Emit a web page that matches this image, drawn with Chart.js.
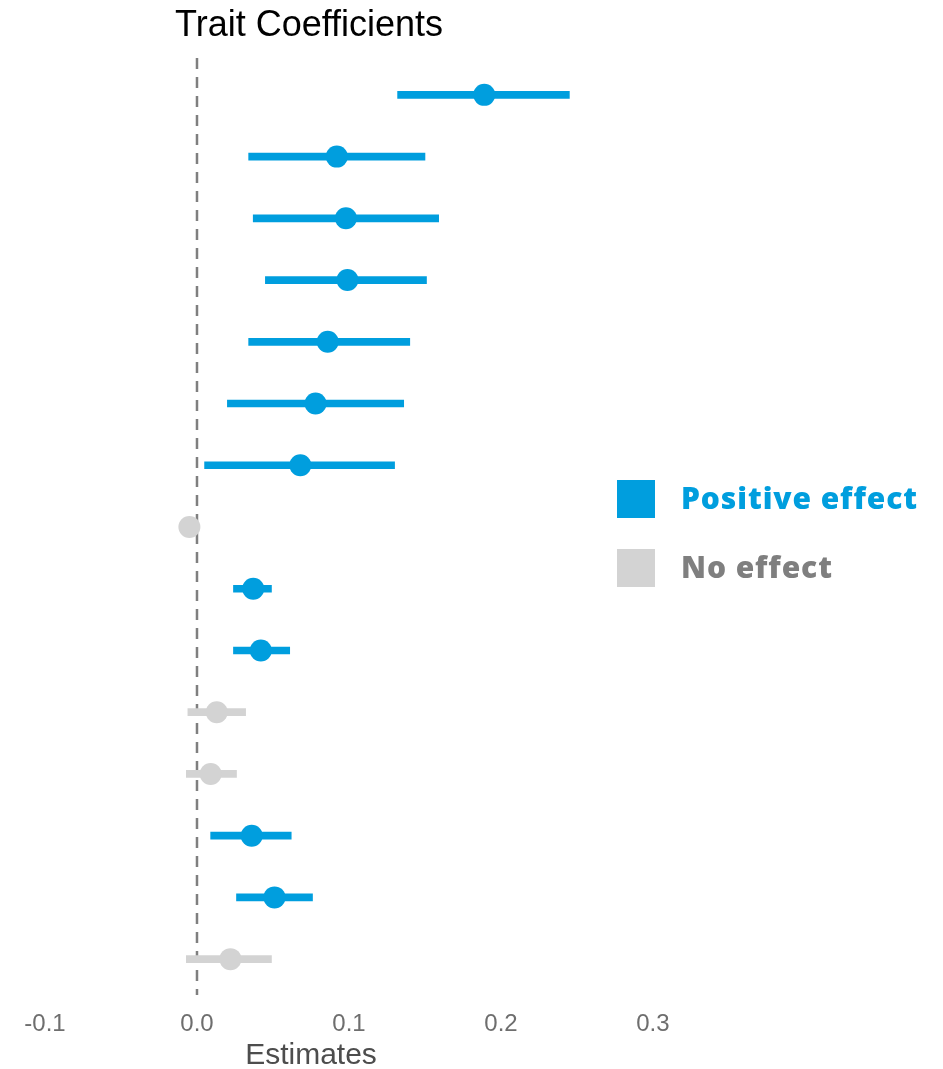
<!DOCTYPE html>
<html>
<head>
<meta charset="utf-8">
<script src="https://cdn.jsdelivr.net/npm/chart.js@4.4.0/dist/chart.umd.min.js"></script>
<style>
  html, body { margin: 0; padding: 0; background: #fff; }
  #wrap { position: relative; width: 943px; height: 1069px; }
  #legend { position: absolute; left: 617px; top: 480px; font-family: "Open Sans", "Noto Sans", sans-serif; font-weight: 800; font-size: 30px; letter-spacing: 0.9px; }
  .item { position: relative; height: 38px; margin-bottom: 31px; }
  .sw { position: absolute; left: 0; top: 0; width: 38px; height: 38px; }
  .lab { position: absolute; left: 64px; top: -3px; white-space: nowrap; line-height: 42px; }
</style>
</head>
<body>
<div id="wrap">
  <canvas id="c" width="943" height="1069"></canvas>
  <div id="legend">
    <div class="item"><div class="sw" style="background:#009EDE"></div><div class="lab" style="color:#009EDE">Positive effect</div></div>
    <div class="item"><div class="sw" style="background:#D3D3D3"></div><div class="lab" style="color:#7F7F7F">No effect</div></div>
  </div>
</div>
<script>
const traits = ["T1","T2","T3","T4","T5","T6","T7","T8","T9","T10","T11","T12","T13","T14","T15"];
const estimates = [0.189, 0.092, 0.098, 0.099, 0.086, 0.078, 0.068, -0.005, 0.037, 0.042, 0.013, 0.009, 0.036, 0.051, 0.022];
const lower =     [0.132, 0.034, 0.037, 0.045, 0.034, 0.020, 0.005, -0.010, 0.024, 0.024, -0.006, -0.007, 0.009, 0.026, -0.007];
const upper =     [0.245, 0.150, 0.159, 0.151, 0.140, 0.136, 0.130, 0.000, 0.049, 0.061, 0.032, 0.026, 0.062, 0.076, 0.049];
const effect =    ["pos","pos","pos","pos","pos","pos","pos","none","pos","pos","none","none","pos","pos","none"];
const xTicks = [-0.1, 0.0, 0.1, 0.2, 0.3];

const BLUE = "#009EDE", GREY = "#D3D3D3";
const colors = effect.map(e => e === "pos" ? BLUE : GREY);

const refLine = {
  id: "refLine",
  beforeDatasetsDraw(chart) {
    const ctx = chart.ctx, x = chart.scales.x.getPixelForValue(0), a = chart.chartArea;
    ctx.save();
    ctx.strokeStyle = "#7F7F7F";
    ctx.lineWidth = 2.5;
    ctx.setLineDash([11, 8]);
    ctx.beginPath();
    ctx.moveTo(x, a.top - 6);
    ctx.lineTo(x, a.bottom + 5);
    ctx.stroke();
    ctx.restore();
  },
  afterDraw(chart) {
    const ctx = chart.ctx;
    ctx.save();
    ctx.fillStyle = "#000";
    ctx.font = '36px "Liberation Sans", Arial, sans-serif';
    ctx.textAlign = "left";
    ctx.textBaseline = "alphabetic";
    ctx.fillText("Trait Coefficients", 175, 36);
    ctx.fillStyle = "#4D4D4D";
    ctx.font = '30px "Liberation Sans", Arial, sans-serif';
    ctx.textAlign = "center";
    ctx.fillText("Estimates", 311, 1064);
    ctx.restore();
  }
};

new Chart(document.getElementById("c"), {
  type: "bar",
  data: {
    labels: traits,
    datasets: [
      {
        type: "line",
        data: traits.map((t, i) => ({ x: estimates[i], y: t })),
        showLine: false,
        pointRadius: 11,
        pointHoverRadius: 11,
        pointBorderWidth: 0,
        pointBackgroundColor: colors,
        pointBorderColor: colors,
        order: 0
      },
      {
        type: "bar",
        data: traits.map((t, i) => [lower[i], upper[i]]),
        backgroundColor: colors,
        borderWidth: 0,
        barThickness: 7,
        borderSkipped: false,
        order: 1
      }
    ]
  },
  options: {
    indexAxis: "y",
    responsive: false,
    animation: false,
    events: [],
    layout: { padding: { left: 45, right: 23, top: 64, bottom: 0 } },
    plugins: { legend: { display: false }, tooltip: { enabled: false }, title: { display: false } },
    scales: {
      x: {
        type: "linear",
        min: -0.1,
        max: 0.4757,
        grid: { display: false, drawTicks: false },
        border: { display: false },
        afterBuildTicks: s => { s.ticks = xTicks.map(v => ({ value: v })); },
        afterFit: s => { s.height = 79; },
        ticks: {
          padding: 20,
          color: "#6E6E6E",
          font: { family: '"Liberation Sans", Arial, sans-serif', size: 24 },
          callback: v => v.toFixed(1)
        }
      },
      y: {
        type: "category",
        display: false,
        offset: true
      }
    }
  },
  plugins: [refLine]
});
</script>
</body>
</html>
